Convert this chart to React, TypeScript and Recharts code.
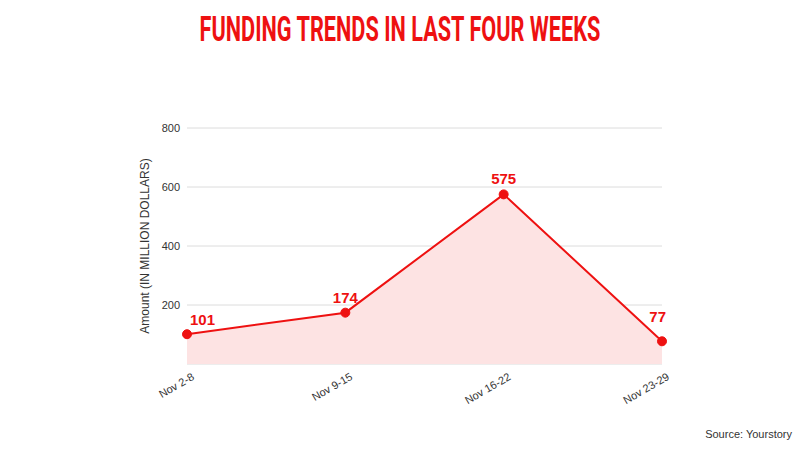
import React from "react";
import { ComposedChart, Area, Line, CartesianGrid, XAxis, YAxis, LabelList } from "recharts";

const weeks = ["Nov 2-8", "Nov 9-15", "Nov 16-22", "Nov 23-29"];
const amounts = [101, 174, 575, 77];
const yTicks = [200, 400, 600, 800];

const data = weeks.map((w, i) => ({ week: w, amount: amounts[i] }));

const RED = "#ee1111";
const FONT = "'Liberation Sans', Arial, sans-serif";

const XTick = (props: any) => {
  const { x, y, payload } = props;
  const tx = x + 8;
  const ty = y + 7;
  return (
    <text
      x={tx}
      y={ty}
      transform={`rotate(-30, ${tx}, ${ty})`}
      textAnchor="end"
      fontSize={11}
      fill="#333"
      fontFamily={FONT}
    >
      {payload.value}
    </text>
  );
};

const PointLabel = (props: any) => {
  const { x, y, value, index } = props;
  let anchor = "middle";
  let lx = x;
  let ly = y - 10;
  if (index === 0) {
    anchor = "start";
    lx = x + 3;
    ly = y - 9;
  } else if (index === amounts.length - 1) {
    anchor = "end";
    lx = x + 4;
    ly = y - 19;
  }
  return (
    <text
      x={lx}
      y={ly}
      textAnchor={anchor}
      fontSize={15}
      fontWeight="bold"
      fill={RED}
      fontFamily={FONT}
    >
      {value}
    </text>
  );
};

const App = () => {
  return (
    <div style={{ position: "absolute", left: 0, top: 0, width: 800, height: 450, background: "#fff" }}>
      <div
        style={{
          position: "absolute",
          top: 10,
          left: 0,
          width: 800,
          textAlign: "center",
          color: RED,
          fontFamily: "Roboto, sans-serif",
          fontWeight: 700,
          fontSize: 35,
          lineHeight: "40px",
          whiteSpace: "nowrap",
          transform: "scaleX(0.62)",
          transformOrigin: "400px 0",
          zIndex: 1,
        }}
      >
        FUNDING TRENDS IN LAST FOUR WEEKS
      </div>
      <ComposedChart
        width={800}
        height={450}
        data={data}
        margin={{ top: 128, right: 138, bottom: 0, left: 0 }}
        style={{ position: "absolute", left: 0, top: 0 }}
      >
        <CartesianGrid horizontal vertical={false} stroke="#dcdcdc" />
        <XAxis
          dataKey="week"
          axisLine={false}
          tickLine={false}
          height={86}
          interval={0}
          tick={<XTick />}
        />
        <YAxis
          width={187}
          domain={[0, 800]}
          ticks={yTicks}
          allowDataOverflow
          axisLine={false}
          tickLine={false}
          tickMargin={1}
          tick={{ fontSize: 11, fill: "#333", fontFamily: FONT }}
          label={{
            value: "Amount (IN MILLION DOLLARS)",
            angle: -90,
            position: "insideLeft",
            offset: 145,
            style: { textAnchor: "middle", fontSize: 12, fill: "#333", fontFamily: FONT },
          }}
        />
        <Area
          type="linear"
          dataKey="amount"
          stroke="none"
          fill="#fde3e3"
          fillOpacity={1}
          isAnimationActive={false}
        />
        <Line
          type="linear"
          dataKey="amount"
          stroke={RED}
          strokeWidth={2}
          dot={{ r: 4.5, fill: RED, stroke: RED, strokeWidth: 1 }}
          isAnimationActive={false}
        >
          <LabelList dataKey="amount" content={<PointLabel />} />
        </Line>
      </ComposedChart>
      <div
        style={{
          position: "absolute",
          top: 428,
          right: 8,
          fontSize: 11,
          color: "#333",
          fontFamily: FONT,
        }}
      >
        Source: Yourstory
      </div>
    </div>
  );
};

export default App;
